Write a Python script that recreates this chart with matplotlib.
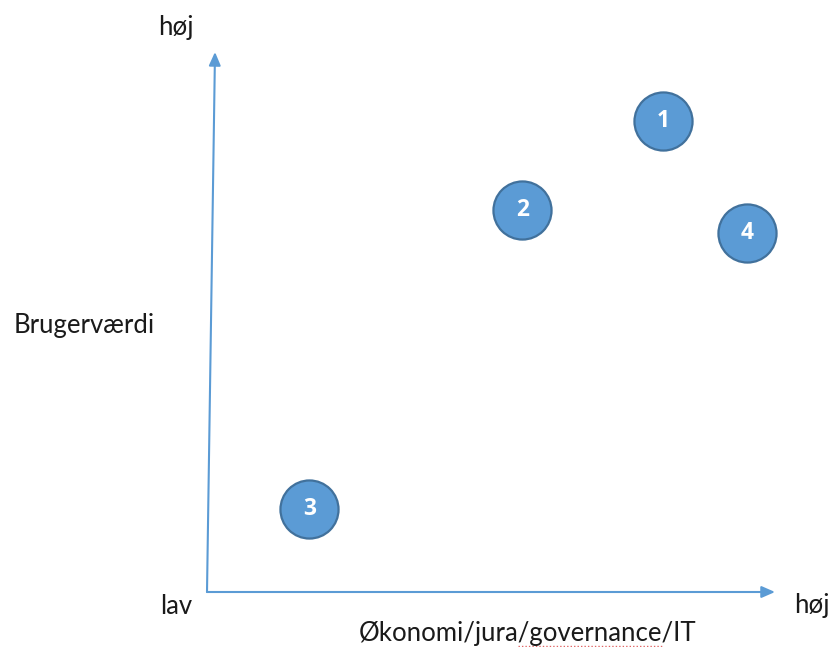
import matplotlib
matplotlib.use("Agg")
import matplotlib.pyplot as plt
from matplotlib.lines import Line2D

plt.rcParams['font.family'] = ['Lato', 'DejaVu Sans']

# Data (scale 0-10 on both axes)
labels = ["1", "2", "3", "4"]
x_vals = [8.03, 5.55, 1.80, 9.51]   # Økonomi/jura/governance/IT
y_vals = [8.72, 7.07, 1.54, 6.65]   # Brugerværdi

W, H = 834, 647
fig = plt.figure(figsize=(W / 100, H / 100), dpi=100)
fig.patch.set_facecolor("white")

# axes region: origin at (207, 592) px, x to 775 px, y to 52 px
ox, oy, ex, ey = 207, 592, 775, 52
ax = fig.add_axes([ox / W, (H - oy) / H, (ex - ox) / W, (oy - ey) / H])
ax.set_xlim(0, 10)
ax.set_ylim(0, 10)
ax.axis("off")

axis_col = "#5B9BD5"
arrow = dict(arrowstyle="-|>,head_length=0.8,head_width=0.35", color=axis_col,
             lw=1.5, shrinkA=0, shrinkB=0)
ax.annotate("", xy=(10, 0), xytext=(0, 0), arrowprops=arrow, annotation_clip=False)
ax.annotate("", xy=(8 / 568 * 10, 10), xytext=(0, 0), arrowprops=arrow, annotation_clip=False)

ax.scatter(x_vals, y_vals, s=1750, c="#5B9BD5", edgecolors="#41719C",
           linewidths=1.6, zorder=3, clip_on=False)
for lab, xv, yv in zip(labels, x_vals, y_vals):
    ax.text(xv, yv, lab, ha="center", va="center", color="white",
            fontsize=16.5, fontweight="bold", family=["Open Sans", "DejaVu Sans"],
            zorder=4)

def ftext(px, py, s, **kw):
    fig.text(px / W, 1 - py / H, s, ha="center", va="center",
             fontsize=18.5, color="#1a1a1a", **kw)

ftext(176, 27, "høj")
ftext(84, 325, "Brugerværdi")
ftext(176, 606, "lav")
ftext(812, 606, "høj")
ftext(528, 634, "Økonomi/jura/governance/IT")

# spell-check squiggle under "governance"
fig.add_artist(Line2D([518 / W, 662 / W], [1 - 645.5 / H, 1 - 645.5 / H],
                      transform=fig.transFigure, color="#E06666", lw=1,
                      linestyle=(0, (1, 1.5))))

fig.savefig("out.png", dpi=100, facecolor="white")
